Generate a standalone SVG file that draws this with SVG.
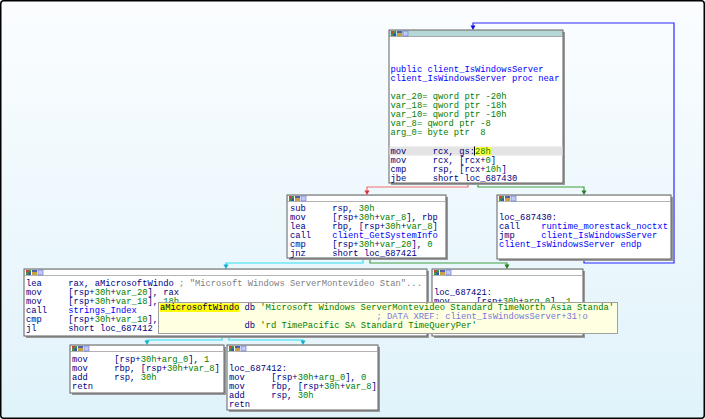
<svg xmlns="http://www.w3.org/2000/svg" width="705" height="419" viewBox="0 0 705 419">
<style>
.t{font-family:"Liberation Mono","DejaVu Sans Mono",monospace;font-size:8.8px;white-space:pre;fill:#000080}
.b{fill:#0000ff}
.g{fill:#008000}
.c{fill:#808080}
.x{fill:#7878d8}
.box{fill:#ffffff;stroke:#606060;stroke-width:1}
.sh{fill:#9a9a9a}
.hd{fill:#ffffff;stroke:#808080;stroke-width:0.6}
.e{fill:none;stroke-width:1.2}
</style>
<defs>
<linearGradient id="bg" x1="0" y1="0" x2="0" y2="1">
<stop offset="0" stop-color="#fbfdff"/>
<stop offset="1" stop-color="#e0f3fa"/>
</linearGradient>
<marker id="aR" viewBox="0 0 6 6" refX="3" refY="6" markerWidth="5" markerHeight="5" orient="auto-start-reverse" markerUnits="userSpaceOnUse"><path d="M0,0 L6,0 L3,6 z" fill="#f06060"/></marker>
<g id="icons">
<rect x="0" y="0" width="5" height="5" fill="#3a9a3a"/><rect x="0" y="0" width="2.5" height="2.5" fill="#d04040"/><rect x="2.5" y="2.5" width="2.5" height="2.5" fill="#3050c0"/>
<rect x="6" y="0" width="5" height="5" fill="#c8a040"/><rect x="6" y="0" width="5" height="2" fill="#5060b0"/>
<rect x="12" y="0" width="5" height="5" fill="#c0c8f8" stroke="#6070d0" stroke-width="0.6"/>
</g>
</defs>
<rect x="0.75" y="0.75" width="703.5" height="417.5" rx="3" fill="url(#bg)" stroke="#000" stroke-width="1.5"/>

<g id="edges">
<path class="e" stroke="#f07070" d="M468,183 V187 H367 V191"/>
<polygon points="364.5,190.5 369.5,190.5 367,195" fill="#e03030"/>
<path class="e" stroke="#40a040" d="M478,183 V187 H584 V191"/>
<polygon points="581.5,190.5 586.5,190.5 584,195" fill="#208020"/>
<path class="e" stroke="#2828ff" stroke-width="1.6" d="M584,259 V263 H674 V23 H473 V26"/>
<polygon points="470.5,25.5 475.5,25.5 473,30" fill="#1010e0"/>
<path class="e" stroke="#30e0f0" d="M363,258 V263 H226 V265"/>
<polygon points="223.5,264.5 228.5,264.5 226,269" fill="#10b0d0"/>
<path class="e" stroke="#40a040" d="M370,258 V263 H507 V265"/>
<polygon points="504.5,264.5 509.5,264.5 507,269" fill="#208020"/>
<path class="e" stroke="#30e0f0" d="M222,336 V340 H147 V341"/>
<polygon points="144.5,340.5 149.5,340.5 147,345" fill="#10b0d0"/>
<path class="e" stroke="#30e0f0" d="M229,336 V340 H303 V341"/>
<polygon points="300.5,340.5 305.5,340.5 303,345" fill="#10b0d0"/>
</g>

<g id="node_entry">
<rect class="sh" x="391" y="32" width="174" height="153"/>
<rect class="box" x="389" y="30" width="174" height="153"/>
<rect x="389.5" y="30.5" width="173" height="6" fill="#b4d8d8" stroke="#808080" stroke-width="0.6"/>
<use href="#icons" transform="translate(391,31) scale(1)"/>
<rect x="389.5" y="146.5" width="173" height="9" fill="#e4e4e4"/>
<rect x="474.5" y="147" width="16.5" height="8.5" fill="#ffff40"/>
<rect x="474" y="146.5" width="1" height="9" fill="#000"/>
<text class="t b" x="390.5" y="71.7">public client_IsWindowsServer</text>
<text class="t b" x="390.5" y="80.8">client_IsWindowsServer proc near</text>
<text class="t g" x="390.5" y="99">var_20= qword ptr -20h</text>
<text class="t g" x="390.5" y="108.1">var_18= qword ptr -18h</text>
<text class="t g" x="390.5" y="117.2">var_10= qword ptr -10h</text>
<text class="t g" x="390.5" y="126.3">var_8= qword ptr -8</text>
<text class="t g" x="390.5" y="135.4">arg_0= byte ptr  8</text>
<text class="t" x="390.5" y="153.6">mov     rcx, gs:<tspan class="g">28h</tspan></text>
<text class="t" x="390.5" y="162.7">mov     rcx, [rcx+<tspan class="g">0</tspan>]</text>
<text class="t" x="390.5" y="171.8">cmp     rsp, [rcx+<tspan class="g">10h</tspan>]</text>
<text class="t" x="390.5" y="180.9">jbe     short loc_687430</text>
</g>

<g id="node_sub">
<rect class="sh" x="289" y="197" width="159" height="63"/>
<rect class="box" x="287" y="195" width="159" height="63"/>
<rect class="hd" x="287.5" y="195.5" width="158" height="6"/>
<use href="#icons" transform="translate(289,196)"/>
<text class="t" x="290" y="210.5">sub     rsp, <tspan class="g">30h</tspan></text>
<text class="t" x="290" y="219.6">mov     [rsp+<tspan class="g">30h</tspan>+<tspan class="g">var_8</tspan>], rbp</text>
<text class="t" x="290" y="228.7">lea     rbp, [rsp+<tspan class="g">30h</tspan>+<tspan class="g">var_8</tspan>]</text>
<text class="t" x="290" y="237.8">call    <tspan class="b">client_GetSystemInfo</tspan></text>
<text class="t" x="290" y="246.9">cmp     [rsp+<tspan class="g">30h</tspan>+<tspan class="g">var_20</tspan>], <tspan class="g">0</tspan></text>
<text class="t" x="290" y="256">jnz     short loc_687421</text>
</g>

<g id="node_loc_687430">
<rect class="sh" x="499" y="197" width="174" height="64"/>
<rect class="box" x="497" y="195" width="174" height="64"/>
<rect class="hd" x="497.5" y="195.5" width="173" height="6"/>
<use href="#icons" transform="translate(499,196)"/>
<text class="t" x="499" y="219.5">loc_687430:</text>
<text class="t" x="499" y="228.5">call    <tspan class="b">runtime_morestack_noctxt</tspan></text>
<text class="t" x="499" y="237.6">jmp     <tspan class="b">client_IsWindowsServer</tspan></text>
<text class="t b" x="499" y="246.6">client_IsWindowsServer endp</text>
</g>

<g id="node_lea">
<rect class="sh" x="26" y="271" width="403" height="67"/>
<rect class="box" x="24" y="269" width="403" height="67"/>
<rect class="hd" x="24.5" y="269.5" width="402" height="6"/>
<use href="#icons" transform="translate(26,270)"/>
<text class="t" x="26" y="286">lea     rax, aMicrosoftWindo <tspan class="c">; "Microsoft Windows ServerMontevideo Stan"...</tspan></text>
<text class="t" x="26" y="295">mov     [rsp+<tspan class="g">30h</tspan>+<tspan class="g">var_20</tspan>], rax</text>
<text class="t" x="26" y="304">mov     [rsp+<tspan class="g">30h</tspan>+<tspan class="g">var_18</tspan>], <tspan class="g">18h</tspan></text>
<text class="t" x="26" y="313">call    <tspan class="b">strings_Index</tspan></text>
<text class="t" x="26" y="322">cmp     [rsp+<tspan class="g">30h</tspan>+<tspan class="g">var_10</tspan>],</text>
<text class="t" x="26" y="331">jl      short loc_687412</text>
</g>

<g id="node_loc_687421">
<rect class="sh" x="434" y="271" width="151" height="67"/>
<rect class="box" x="432" y="269" width="151" height="67"/>
<rect class="hd" x="432.5" y="269.5" width="150" height="6"/>
<use href="#icons" transform="translate(434,270)"/>
<text class="t" x="434" y="295">loc_687421:</text>
<text class="t" x="434" y="304">mov     [rsp+<tspan class="g">30h</tspan>+<tspan class="g">arg_0</tspan>], <tspan class="g">1</tspan></text>
</g>

<g id="node_ret1">
<rect class="sh" x="72" y="347" width="154" height="48"/>
<rect class="box" x="70" y="345" width="154" height="48"/>
<rect class="hd" x="70.5" y="345.5" width="153" height="6"/>
<use href="#icons" transform="translate(72,346)"/>
<text class="t" x="72" y="362">mov     [rsp+<tspan class="g">30h</tspan>+<tspan class="g">arg_0</tspan>], <tspan class="g">1</tspan></text>
<text class="t" x="72" y="371">mov     rbp, [rsp+<tspan class="g">30h</tspan>+<tspan class="g">var_8</tspan>]</text>
<text class="t" x="72" y="380">add     rsp, <tspan class="g">30h</tspan></text>
<text class="t" x="72" y="389">retn</text>
</g>

<g id="node_loc_687412">
<rect class="sh" x="229" y="347" width="151" height="65"/>
<rect class="box" x="227" y="345" width="151" height="65"/>
<rect class="hd" x="227.5" y="345.5" width="150" height="6"/>
<use href="#icons" transform="translate(229,346)"/>
<text class="t" x="229" y="371">loc_687412:</text>
<text class="t" x="229" y="380">mov     [rsp+<tspan class="g">30h</tspan>+<tspan class="g">arg_0</tspan>], <tspan class="g">0</tspan></text>
<text class="t" x="229" y="389">mov     rbp, [rsp+<tspan class="g">30h</tspan>+<tspan class="g">var_8</tspan>]</text>
<text class="t" x="229" y="398">add     rsp, <tspan class="g">30h</tspan></text>
<text class="t" x="229" y="407">retn</text>
</g>

<g id="tooltip">
<rect x="158.5" y="302.5" width="459" height="31" fill="#ffffe1" stroke="#a0a0a0" stroke-width="1"/>
<rect x="160" y="303.5" width="79.5" height="8.5" fill="#ffff00"/>
<text class="t" x="160" y="310"><tspan fill="#000040">aMicrosoftWindo</tspan> db <tspan class="g">'Microsoft Windows ServerMontevideo Standard TimeNorth Asia Standa'</tspan></text>
<text class="t x" x="376.5" y="319">; DATA XREF: client_IsWindowsServer+31↑o</text>
<text class="t" x="244.5" y="327.5">db <tspan class="g">'rd TimePacific SA Standard TimeQueryPer'</tspan></text>
</g>
</svg>
